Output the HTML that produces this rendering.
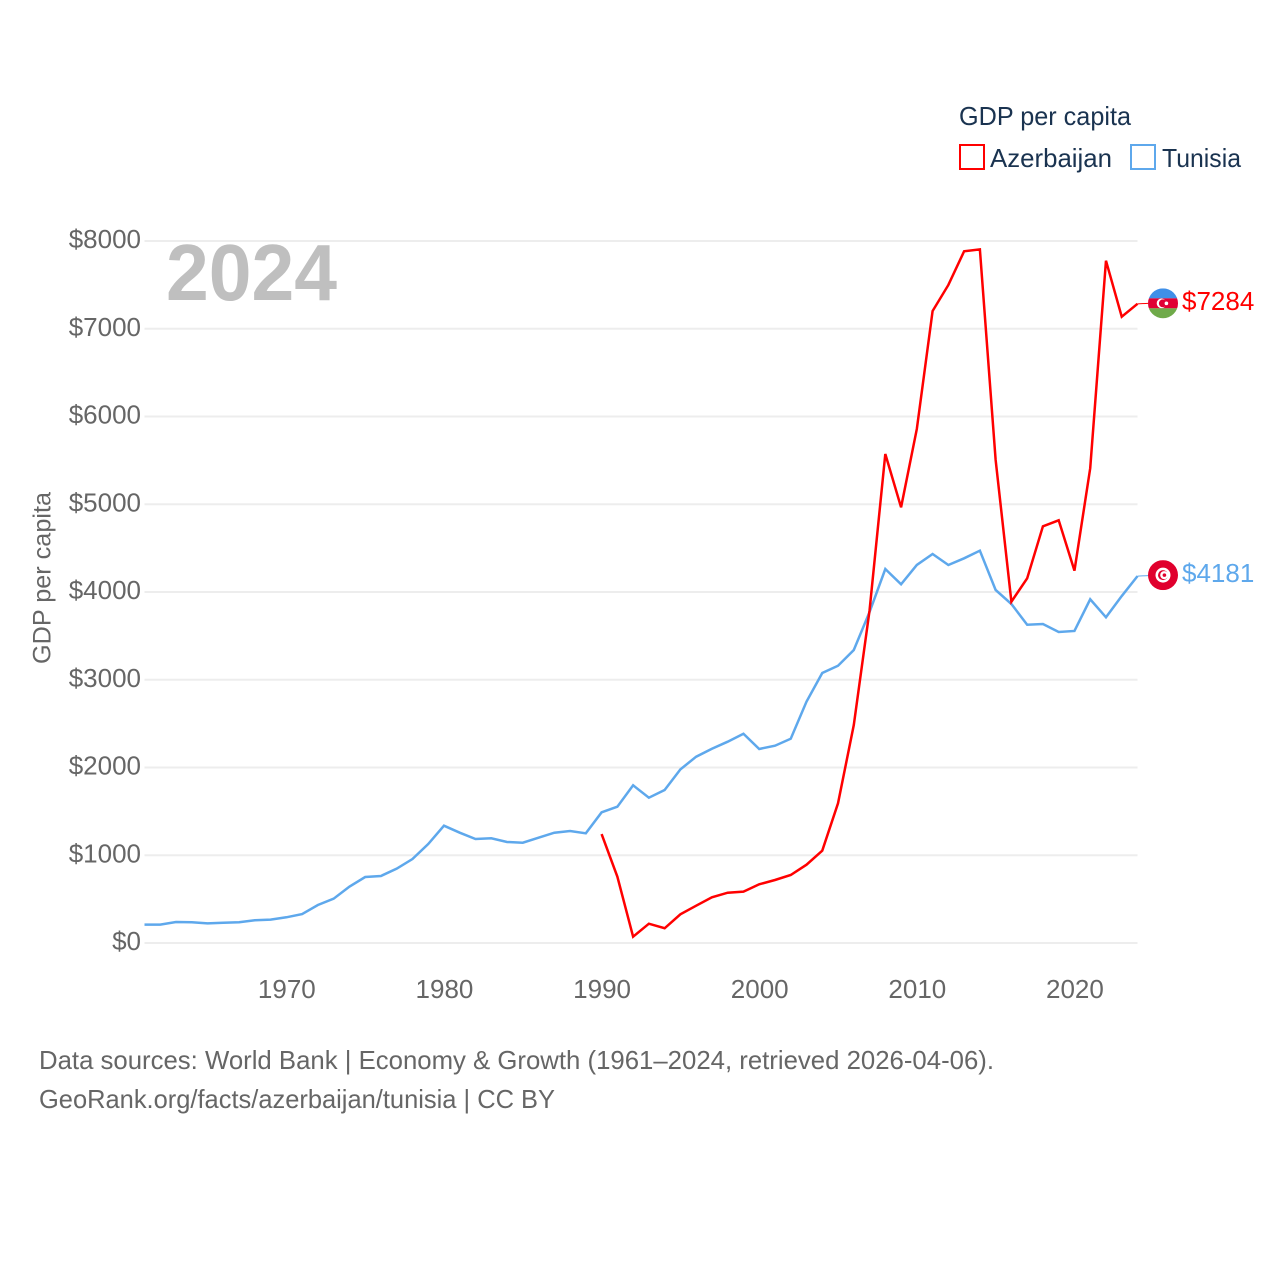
<!DOCTYPE html>
<html lang="en">
<head>
<meta charset="utf-8">
<title>GDP per capita: Azerbaijan and Tunisia</title>
<style>
html,body{margin:0;padding:0;background:#fff;}
svg{display:block;font-family:"Liberation Sans",sans-serif;}
</style>
</head>
<body>
<svg id="chart" xmlns="http://www.w3.org/2000/svg" width="1280" height="1280" viewBox="0 0 1280 1280">
  <defs>
    <clipPath id="flag-clip-az"><circle cx="0" cy="0" r="15"/></clipPath>
    <clipPath id="flag-clip-tn"><circle cx="0" cy="0" r="15"/></clipPath>
  </defs>
  <rect x="0" y="0" width="1280" height="1280" fill="#ffffff"/>
  <g id="grid"></g>
  <g id="y-ticks"></g>
  <g id="x-ticks"></g>

  <text x="166" y="300" font-size="80" font-weight="700" fill="#bfbfbf" textLength="171" lengthAdjust="spacingAndGlyphs">2024</text>

  <text transform="translate(50.5 664) rotate(-90)" x="0" y="0" font-size="25" fill="#666666" textLength="172" lengthAdjust="spacingAndGlyphs">GDP per capita</text>

  <g id="series"></g>
  <g id="end-markers"></g>

  <g>
    <text x="959" y="125" font-size="26" fill="#1a3350" textLength="172" lengthAdjust="spacingAndGlyphs">GDP per capita</text>
    <g>
      <rect x="960" y="145" width="24" height="24" fill="none" stroke="#ff0000" stroke-width="2"/>
      <text x="990" y="167" font-size="26" fill="#1a3350" textLength="122" lengthAdjust="spacingAndGlyphs">Azerbaijan</text>
    </g>
    <g>
      <rect x="1131" y="145" width="24" height="24" fill="none" stroke="#5ea8ec" stroke-width="2"/>
      <text x="1162" y="167" font-size="26" fill="#1a3350" textLength="79" lengthAdjust="spacingAndGlyphs">Tunisia</text>
    </g>
  </g>

  <text x="39" y="1069" font-size="26" fill="#666666" textLength="955" lengthAdjust="spacingAndGlyphs">Data sources: World Bank | Economy &amp; Growth (1961–2024, retrieved 2026-04-06).</text>
  <text x="39" y="1108" font-size="26" fill="#666666" textLength="516" lengthAdjust="spacingAndGlyphs">GeoRank.org/facts/azerbaijan/tunisia | CC BY</text>
</svg>

<script>
const startYear = 1961;
const endYear = 2024;
const yTickValues = [0, 1000, 2000, 3000, 4000, 5000, 6000, 7000, 8000];
const xTickValues = [1970, 1980, 1990, 2000, 2010, 2020];
const tunisiaStartYear = 1961;
const tunisiaValues = [209, 209, 239, 237, 224, 231, 236, 259, 266, 293, 330, 433, 505, 642, 752, 764, 847, 957, 1128, 1337, 1257, 1185, 1193, 1151, 1143, 1200, 1257, 1276, 1250, 1489, 1553, 1797, 1656, 1744, 1979, 2123, 2214, 2294, 2385, 2211, 2248, 2328, 2750, 3077, 3160, 3339, 3772, 4262, 4088, 4308, 4433, 4308, 4384, 4471, 4023, 3863, 3627, 3635, 3544, 3556, 3917, 3712, 3954, 4181];
const azerbaijanStartYear = 1990;
const azerbaijanValues = [1242, 756, 72, 220, 168, 327, 425, 521, 573, 585, 669, 718, 775, 892, 1052, 1592, 2484, 3790, 5573, 4965, 5858, 7202, 7499, 7883, 7905, 5504, 3889, 4156, 4749, 4817, 4243, 5410, 7776, 7137, 7284];

const NS = 'http://www.w3.org/2000/svg';
const plotLeft = 144.5;
const plotRight = 1137.5;
const plotBottom = 943;
const plotTop = 241;
const yMax = 8000;

function xScale(year) {
  return plotLeft + (year - startYear) * (plotRight - plotLeft) / (endYear - startYear);
}
function yScale(value) {
  return plotBottom - value * (plotBottom - plotTop) / yMax;
}
function make(tag, props, parent) {
  const el = document.createElementNS(NS, tag);
  for (const key in props) el.setAttribute(key, props[key]);
  parent.appendChild(el);
  return el;
}

const gridGroup = document.getElementById('grid');
const yTickGroup = document.getElementById('y-ticks');
const xTickGroup = document.getElementById('x-ticks');
const seriesGroup = document.getElementById('series');
const markerGroup = document.getElementById('end-markers');

yTickValues.forEach(function (value) {
  const y = yScale(value);
  const line = make('line', {x1: plotLeft, x2: plotRight, y1: y, y2: y, stroke: '#ededed', 'stroke-width': 2}, gridGroup);
  
  
  const label = make('text', {x: 141, y: y + 7, 'text-anchor': 'end', 'font-size': 26, fill: '#666666'}, yTickGroup);
  label.textContent = '$' + value;
  
  
});

xTickValues.forEach(function (year) {
  const label = make('text', {x: xScale(year) + 0.5, y: 998, 'text-anchor': 'middle', 'font-size': 26, fill: '#666666'}, xTickGroup);
  label.textContent = String(year);
  
  
});

function linePoints(firstYear, values) {
  return values.map(function (v, i) {
    return xScale(firstYear + i).toFixed(2) + ',' + yScale(v).toFixed(2);
  }).join(' ');
}

const tunisiaLine = make('polyline', {points: linePoints(tunisiaStartYear, tunisiaValues), fill: 'none', stroke: '#5ea8ec', 'stroke-width': 2.5, 'stroke-linejoin': 'miter'}, seriesGroup);



const azerbaijanLine = make('polyline', {points: linePoints(azerbaijanStartYear, azerbaijanValues), fill: 'none', stroke: '#ff0000', 'stroke-width': 2.5, 'stroke-linejoin': 'miter'}, seriesGroup);



/* end-of-line connectors, flags and value labels */
const azLast = azerbaijanValues[azerbaijanValues.length - 1];
const tnLast = tunisiaValues[tunisiaValues.length - 1];
const azY = yScale(azLast);
const tnY = yScale(tnLast);
const flagX = 1163;

const azConnector = make('line', {x1: plotRight, x2: 1148, y1: azY, y2: azY - 0.5, stroke: '#ff0000', 'stroke-width': 1}, markerGroup);



const tnConnector = make('line', {x1: plotRight, x2: 1148, y1: tnY, y2: tnY - 0.5, stroke: '#5ea8ec', 'stroke-width': 1}, markerGroup);



const azFlag = make('g', {transform: 'translate(' + flagX + ' ' + (azY - 0.5) + ')', 'clip-path': 'url(#flag-clip-az)'}, markerGroup);


make('rect', {x: -15, y: -15, width: 30, height: 10, fill: '#3f8fe8'}, azFlag);
make('rect', {x: -15, y: -5, width: 30, height: 10, fill: '#e00034'}, azFlag);
make('rect', {x: -15, y: 5, width: 30, height: 10, fill: '#6faa4a'}, azFlag);
make('circle', {cx: -1.5, cy: 0, r: 4.8, fill: '#ffffff'}, azFlag);
make('circle', {cx: -0.2, cy: 0, r: 3.9, fill: '#e00034'}, azFlag);
make('circle', {cx: 3.4, cy: 0, r: 1.8, fill: '#ffffff'}, azFlag);

const tnFlag = make('g', {transform: 'translate(' + flagX + ' ' + (tnY - 1) + ')', 'clip-path': 'url(#flag-clip-tn)'}, markerGroup);


make('rect', {x: -15, y: -15, width: 30, height: 30, fill: '#e0002d'}, tnFlag);
make('circle', {cx: 0, cy: 0, r: 7.5, fill: '#ffffff'}, tnFlag);
make('circle', {cx: 0, cy: 0, r: 5, fill: '#e0002d'}, tnFlag);
make('circle', {cx: 1.2, cy: 0, r: 4, fill: '#ffffff'}, tnFlag);
make('circle', {cx: 1.4, cy: 0, r: 1.8, fill: '#e0002d'}, tnFlag);

const azValueLabel = make('text', {x: 1182, y: azY + 6, 'font-size': 26, fill: '#ff0000'}, markerGroup);
azValueLabel.textContent = '$' + azLast;



const tnValueLabel = make('text', {x: 1182, y: tnY + 6, 'font-size': 26, fill: '#5ea8ec'}, markerGroup);
tnValueLabel.textContent = '$' + tnLast;


</script>
</body>
</html>
